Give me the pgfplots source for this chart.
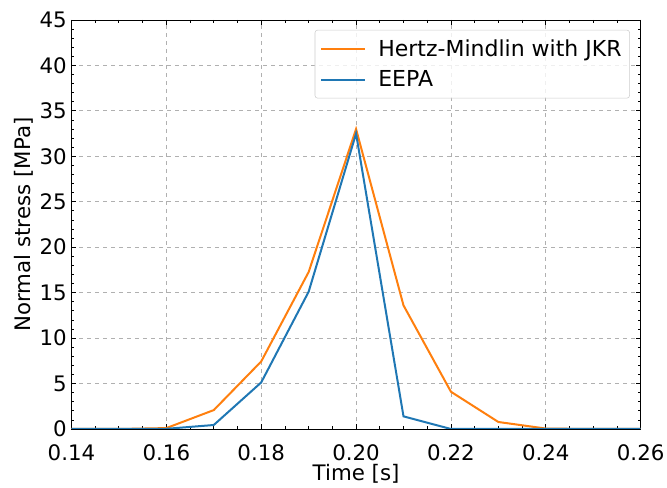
\documentclass[border=0pt]{standalone}
\usepackage{pgfplots}
\pgfplotsset{compat=1.18}
\usepackage{fontspec}
\setmainfont{DejaVu Sans}
\definecolor{mplorange}{HTML}{FF7F0E}
\definecolor{mplblue}{HTML}{1F77B4}
\begin{document}
\begin{tikzpicture}[font=\fontsize{16}{19}\selectfont]
\useasboundingbox (-53.6pt,-44.25pt) rectangle (446.65pt,321.75pt);
\begin{axis}[
  at={(0,0)}, anchor=south west,
  scale only axis, width=426.9pt, height=306.75pt,
  xmin=0.14, xmax=0.26, ymin=0, ymax=45,
  xtick={0.14,0.16,...,0.26}, ytick={0,5,...,45},
  minor x tick num=3, minor y tick num=4,
  tick align=inside, tick pos=both,
  major tick length=3.75pt, minor tick length=2.25pt,
  every tick/.style={black, line width=0.6pt},
  /pgf/number format/assume math mode=true,
  tick label style={font=\fontsize{16}{19}\selectfont},
  label style={font=\fontsize{16}{19}\selectfont},
  xticklabel style={/pgf/number format/fixed, /pgf/number format/precision=2, /pgf/number format/fixed zerofill, yshift=-8pt},
  yticklabel style={xshift=0pt},
  scaled x ticks=false,
  grid=major,
  major grid style={dashed, color=black!31, line width=0.6pt},
  axis line style={line width=0.6pt},
  xlabel={Time [s]}, ylabel={Normal stress [MPa]},
  xlabel style={yshift=4pt},
  ylabel style={yshift=-2pt},
  legend cell align=left,
  legend style={at={(rel axis cs:0.981,0.976)}, anchor=north east,
    draw=black!20, rounded corners=2pt, fill=white, fill opacity=0.8, text opacity=1,
    inner xsep=4pt, inner ysep=5pt, row sep=5.5pt, font=\fontsize{16.5}{19}\selectfont},
  legend image code/.code={\draw[#1, line width=1.5pt] (0pt,0pt) -- (33pt,0pt);},
  legend style={/tikz/every odd column/.append style={column sep=7pt}},
]
\addplot[color=mplorange, line width=1.5pt] coordinates {
(0.14,0) (0.15,0) (0.16,0.1) (0.17,2.08) (0.18,7.43) (0.19,17.27) (0.20,33.0)
(0.21,13.6) (0.22,4.1) (0.23,0.77) (0.24,0.05) (0.25,0) (0.26,0)};
\addlegendentry{Hertz-Mindlin with JKR}
\addplot[color=mplblue, line width=1.5pt] coordinates {
(0.14,0) (0.15,0) (0.16,0.02) (0.17,0.44) (0.18,5.12) (0.19,15.1) (0.20,32.5)
(0.21,1.39) (0.22,0) (0.23,0) (0.24,0) (0.25,0) (0.26,0)};
\addlegendentry{EEPA}
\end{axis}
\end{tikzpicture}
\end{document}
